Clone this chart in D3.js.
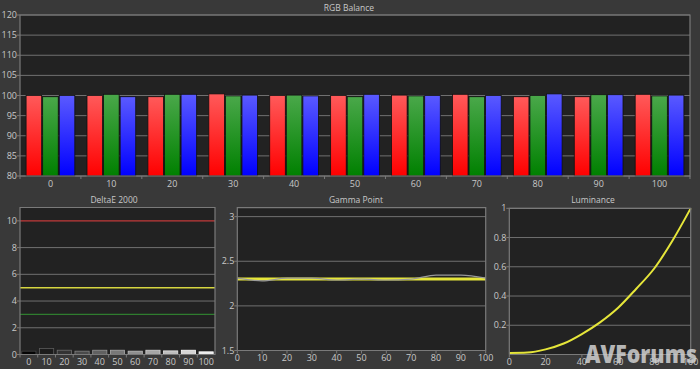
<!DOCTYPE html>
<html><head><meta charset="utf-8">
<script src="https://cdn.jsdelivr.net/npm/d3@7"></script>
<style>
html,body{margin:0;padding:0;background:#393939;}
svg{display:block;}
text{font-family:"Open Sans","DejaVu Sans",sans-serif;fill:#c8c8c8;}
</style></head><body>
<svg id="c" width="700" height="369"></svg>
<script>
// ---- data ----
const categories = [0,10,20,30,40,50,60,70,80,90,100];
const redVals   = [100.0,100.0, 99.7,100.4,100.0,100.0,100.1,100.3, 99.7, 99.7,100.3];
const greenVals = [ 99.7,100.3,100.3, 99.9,100.1, 99.7, 99.9, 99.7,100.0,100.2, 99.9];
const blueVals  = [100.0, 99.7,100.3,100.1, 99.9,100.3,100.0,100.0,100.4,100.2,100.1];
const rgbTicks = [80,85,90,95,100,105,110,115,120];

const deltaE = [0.25,0.45,0.32,0.25,0.32,0.32,0.25,0.32,0.27,0.32,0.2];
const deltaTicks = [0,2,4,6,8,10];
const deltaRefs = [{v:10,c:"#c23a3a"},{v:5,c:"#d6d640"},{v:3,c:"#2f7d2f"}];

const gammaMeasured = [2.31,2.28,2.31,2.31,2.29,2.30,2.29,2.30,2.345,2.345,2.31];
const gammaTarget = 2.3;
const gammaTicks = [1.5,2,2.5,3];

const lumVals = [0.01,0.013,0.035,0.075,0.14,0.22,0.32,0.45,0.59,0.78,1.0];
const lumTicks = [0.2,0.4,0.6,0.8,1];
const lumXTicks = [0,20,40,60,80,100];

const svg = d3.select("#c");
const plotBg = "#222222", gridC = "#707070", frameC = "#7a7a7a";
const fs = 9;

function frame(x0,x1,y0,y1){
  svg.append("rect").attr("x",x0).attr("y",y0).attr("width",x1-x0).attr("height",y1-y0).attr("fill",plotBg);
}
function border(x0,x1,y0,y1){
  svg.append("path").attr("d",`M${x0},${y1}V${y0}H${x1}V${y1}H${x0}`).attr("fill","none").attr("stroke",frameC).attr("stroke-width",1.2);
}
function yAxis(scale,ticks,x0,x1,fmt,grid=true){
  ticks.forEach(t=>{
    const y = scale(t);
    if(grid) svg.append("line").attr("x1",x0).attr("x2",x1).attr("y1",y).attr("y2",y).attr("stroke",gridC).attr("stroke-width",1);
    svg.append("line").attr("x1",x0-3).attr("x2",x0).attr("y1",y).attr("y2",y).attr("stroke",frameC);
    svg.append("text").attr("x",x0-3).attr("y",y+3).attr("text-anchor","end").attr("font-size",fs).text(fmt?fmt(t):t);
  });
}
function title(x,y,s){ svg.append("text").attr("x",x).attr("y",y).attr("text-anchor","middle").attr("font-size",8.5).text(s); }

// ---- gradients ----
const defs = svg.append("defs");
function grad(id,top,bot){
  const g = defs.append("linearGradient").attr("id",id).attr("x1",0).attr("x2",0).attr("y1",0).attr("y2",1);
  g.append("stop").attr("offset","0%").attr("stop-color",top);
  g.append("stop").attr("offset","100%").attr("stop-color",bot);
}
grad("gr","#ff5a5a","#ff0000");
grad("gg","#4aa84a","#008000");
grad("gb","#5a5aff","#0000ff");

// ---- RGB Balance ----
const X0=20,X1=690,Y0=15,Y1=176;
frame(X0,X1,Y0,Y1);
const x = d3.scaleBand().domain(categories).range([X0,X1]);
const y = d3.scaleLinear().domain([80,120]).range([Y1,Y0]);
yAxis(y,rgbTicks,X0,X1);
const series = [{k:"R",vals:redVals,f:"url(#gr)"},{k:"G",vals:greenVals,f:"url(#gg)"},{k:"B",vals:blueVals,f:"url(#gb)"}];
const xi = d3.scaleBand().domain(series.map(s=>s.k)).range([x.bandwidth()*0.1,x.bandwidth()*0.9]).paddingInner(0.06);
series.forEach(s=>{
  svg.append("g").selectAll("rect").data(categories).join("rect")
    .attr("x",(c)=>x(c)+xi(s.k)).attr("width",xi.bandwidth())
    .attr("y",(c,i)=>y(s.vals[i])).attr("height",(c,i)=>Y1-y(s.vals[i]))
    .attr("fill",s.f).attr("stroke","#111").attr("stroke-width",0.8);
});
border(X0,X1,Y0,Y1);
categories.forEach((c,i)=>{
  svg.append("text").attr("x",x(c)+x.bandwidth()/2).attr("y",Y1+11).attr("text-anchor","middle").attr("font-size",fs).text(c);
  svg.append("line").attr("x1",x(c)).attr("x2",x(c)).attr("y1",Y1).attr("y2",Y1+3).attr("stroke",frameC);
});
svg.append("line").attr("x1",X1).attr("x2",X1).attr("y1",Y1).attr("y2",Y1+3).attr("stroke",frameC);
title(349,11,"RGB Balance");

// ---- DeltaE 2000 ----
const D0=20,D1=215,DY0=207.5,DY1=354.5;
frame(D0,D1,DY0,DY1);
const dx = d3.scaleBand().domain(categories).range([D0,D1]).paddingInner(0.2).paddingOuter(0.1);
const dxb = d3.scaleBand().domain(categories).range([D0,D1]);
const dy = d3.scaleLinear().domain([0,11]).range([DY1,DY0]);
yAxis(dy,deltaTicks.filter(t=>t!==0&&t!==10),D0,D1);
yAxis(dy,[0,10],D0,D1,null,false);
deltaRefs.forEach(r=>{
  svg.append("line").attr("x1",D0).attr("x2",D1).attr("y1",dy(r.v)).attr("y2",dy(r.v)).attr("stroke",r.c).attr("stroke-width",1.4);
});
svg.append("g").selectAll("rect").data(categories).join("rect")
  .attr("x",c=>dx(c)).attr("width",dx.bandwidth())
  .attr("y",(c,i)=>dy(deltaE[i])).attr("height",(c,i)=>DY1-dy(deltaE[i]))
  .attr("fill",c=>{const g=Math.round(c*2.3+5);return d3.rgb(g,g,g);})
  .attr("stroke",c=>{const g=Math.min(255,Math.round(c*2.0+70));return d3.rgb(g,g,g);}).attr("stroke-width",0.8);
border(D0,D1,DY0,DY1);
categories.forEach(c=>{
  svg.append("text").attr("x",dxb(c)+dxb.bandwidth()/2).attr("y",DY1+10).attr("text-anchor","middle").attr("font-size",fs).text(c);
  svg.append("line").attr("x1",dxb(c)).attr("x2",dxb(c)).attr("y1",DY1).attr("y2",DY1+3).attr("stroke",frameC);
});
title(114,203,"DeltaE 2000");

// ---- Gamma Point ----
const G0=237.3,G1=485.7,GY0=207.7,GY1=350.5;
frame(G0,G1,GY0,GY1);
const gx = d3.scaleLinear().domain([0,100]).range([G0,G1]);
const gy = d3.scaleLinear().domain([1.5,3.1]).range([GY1,GY0]);
yAxis(gy,gammaTicks.filter(t=>t!==1.5),G0,G1);
yAxis(gy,[1.5],G0,G1,null,false);
svg.append("line").attr("x1",G0).attr("x2",G1).attr("y1",gy(gammaTarget)).attr("y2",gy(gammaTarget)).attr("stroke","#e6e63a").attr("stroke-width",3);
svg.append("path").datum(gammaMeasured)
  .attr("d",d3.line().x((d,i)=>gx(categories[i])).y(d=>gy(d)).curve(d3.curveMonotoneX))
  .attr("fill","none").attr("stroke","#9a9a9a").attr("stroke-width",1.2);
border(G0,G1,GY0,GY1);
categories.forEach(c=>{
  svg.append("text").attr("x",gx(c)).attr("y",GY1+10).attr("text-anchor","middle").attr("font-size",fs).text(c);
  svg.append("line").attr("x1",gx(c)).attr("x2",gx(c)).attr("y1",GY1).attr("y2",GY1+3).attr("stroke",frameC);
});
title(356,203,"Gamma Point");

// ---- Luminance ----
const L0=509.3,L1=690.7,LY0=208.3,LY1=354.5;
frame(L0,L1,LY0,LY1);
const lx = d3.scaleLinear().domain([0,100]).range([L0,L1]);
const ly = d3.scaleLinear().domain([0,1]).range([LY1,LY0]);
yAxis(ly,lumTicks,L0,L1);
svg.append("path").datum(lumVals)
  .attr("d",d3.line().x((d,i)=>lx(categories[i])).y(d=>ly(d)).curve(d3.curveMonotoneX))
  .attr("fill","none").attr("stroke","#e6e63a").attr("stroke-width",2);
border(L0,L1,LY0,LY1);
lumXTicks.forEach(c=>{
  svg.append("text").attr("x",lx(c)).attr("y",LY1+10).attr("text-anchor","middle").attr("font-size",fs).text(c);
  svg.append("line").attr("x1",lx(c)).attr("x2",lx(c)).attr("y1",LY1).attr("y2",LY1+3).attr("stroke",frameC);
});
title(593,203,"Luminance");

// ---- watermark ----
svg.append("text").attr("x",585).attr("y",363).attr("font-size",25).attr("font-weight",900)
  .attr("font-family","Inter, 'Open Sans', sans-serif").attr("textLength",112).attr("lengthAdjust","spacingAndGlyphs")
  .style("fill","#d0d0d0").style("opacity",0.85).text("AVForums");
</script>
</body></html>
